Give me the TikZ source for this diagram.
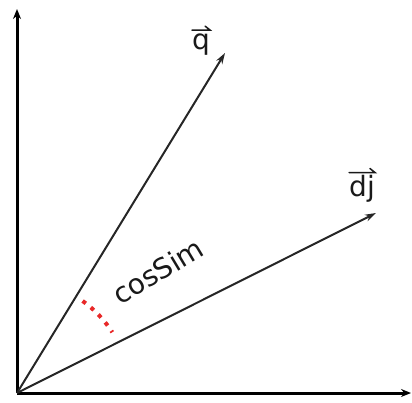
\documentclass[tikz,border=0pt]{standalone}
\usepackage{fontspec}
\setmainfont{DejaVu Sans}
\usetikzlibrary{arrows.meta}
\definecolor{dotred}{RGB}{232,40,40}
\begin{document}
\begin{tikzpicture}[x=1pt,y=1pt,
  axis/.style={line width=3pt,-{Stealth[length=10pt,width=8pt]}},
  vec/.style={line width=2pt,draw=black!85,-{Stealth[length=11pt,width=7pt]}},
  lbl/.style={font=\fontsize{28}{32}\selectfont,inner sep=0pt,text=black!90},
  harp/.style={line width=1.5pt,black!90,line cap=round},
  dots/.style={dotred,line width=4pt,dash pattern=on 4pt off 6.4pt}]
\useasboundingbox (0,0) rectangle (412,402);
\coordinate (O) at (17,9);
\coordinate (Y) at (17,393);
\coordinate (X) at (411,9);
\coordinate (Q) at (225,349);
\coordinate (D) at (376,189);
\draw[axis] (O) -- (Y);
\draw[axis] (O) -- (X);
\draw[vec] (O) -- (Q);
\draw[vec] (O) -- (D);
\node[lbl,anchor=base] (ql) at (201,352) {q};
\draw[harp] ([yshift=4pt]ql.north west) -- ([yshift=4pt]ql.north east) -- ++(-5pt,4pt);
\node[lbl,anchor=base] (dl) at (362,205) {dj};
\draw[harp] ([yshift=3pt]dl.north west) -- ([yshift=3pt]dl.north east) -- ++(-5pt,4pt);
\node[lbl,rotate=31] (cs) at (158,131) {cosSim};
\draw[dots] ([shift={(54.5:113)}]O) arc[start angle=54.5,end angle=32.5,radius=113];
\end{tikzpicture}
\end{document}
